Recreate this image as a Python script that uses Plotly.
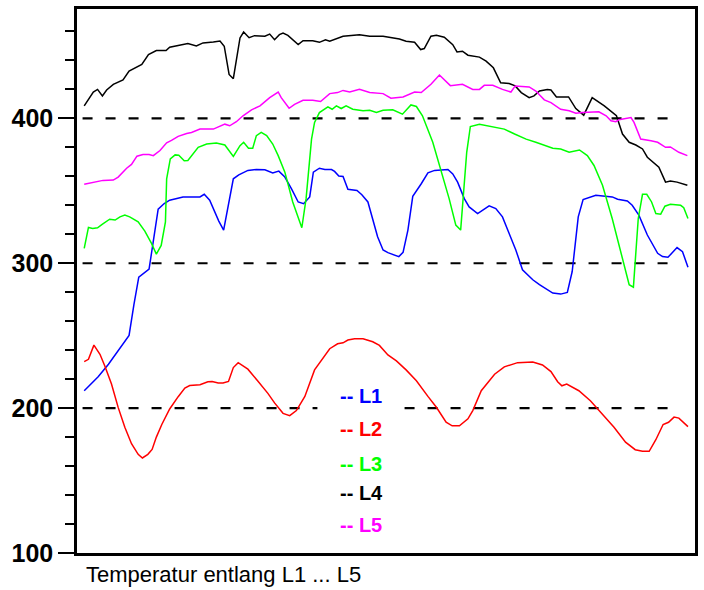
import plotly.graph_objects as go

# Position along the line (arbitrary units 0..100) and temperatures
l1_x = [0.2, 2.5, 4.2, 6.1, 7.6, 8.4, 9.2, 10.9, 12.4, 13.4, 14.3, 16.5, 19.3, 20.0, 20.9, 22.4, 23.2, 24.8, 25.7, 27.2,
        28.6, 30.0, 31.3, 32.3, 33.3, 34.4, 35.5, 36.4, 37.4, 38.0, 39.0, 39.9, 41.0, 41.5, 42.2, 42.9, 43.7, 45.2, 46.0, 47.0,
        47.8, 48.6, 49.5, 50.3, 52.1, 52.8, 53.6, 54.4, 55.8, 56.9, 58.0, 60.2, 61.0, 61.8, 62.9, 63.7, 65.1, 67.0, 68.1, 69.2,
        70.3, 71.4, 72.5, 74.2, 75.3, 76.4, 77.5, 78.8, 79.9, 80.7, 81.7, 82.5, 84.6, 87.3, 88.2, 89.8, 90.6, 91.7, 93.1, 94.8,
        95.6, 96.5, 98.0, 98.9, 99.8]
l1_y = [212.0, 221.6, 230.3, 241.3, 250.2, 271.5, 290.4, 295.9, 337.3, 341.2, 343.5, 345.8, 345.8, 347.6, 343.5, 329.1, 322.9, 358.3, 361.0, 364.1,
        364.7, 364.5, 362.4, 363.6, 359.5, 351.4, 342.3, 341.1, 345.8, 362.9, 365.6, 364.7, 364.7, 363.4, 360.2, 359.9, 351.0, 350.3, 347.3, 342.3,
        330.9, 318.3, 309.2, 307.3, 304.6, 307.5, 322.9, 346.2, 354.9, 362.4, 364.1, 364.7, 361.7, 356.0, 344.6, 338.9, 334.3, 339.6, 337.7, 332.0,
        320.6, 309.2, 295.5, 288.6, 285.2, 282.2, 279.4, 278.7, 279.9, 294.3, 332.0, 343.9, 346.9, 345.8, 344.2, 343.0, 340.0, 333.2, 319.5, 306.9,
        304.6, 304.1, 310.8, 308.0, 297.3]

l2_x = [0.2, 0.9, 1.8, 2.8, 3.6, 4.7, 5.8, 6.9, 8.0, 9.1, 9.8, 10.7, 11.4, 12.1, 13.0, 14.3, 15.7, 16.8, 17.6, 19.3,
        20.6, 21.3, 22.3, 23.1, 24.0, 24.8, 25.6, 27.2, 28.8, 30.5, 31.6, 33.0, 34.1, 35.2, 36.6, 38.2, 40.7, 42.0, 42.9, 43.7,
        44.8, 46.2, 47.8, 48.9, 50.3, 51.7, 53.3, 55.0, 56.9, 58.3, 59.9, 60.9, 62.1, 63.5, 64.3, 65.7, 67.9, 69.5, 71.7, 74.2,
        75.8, 77.2, 78.3, 79.0, 79.8, 81.8, 83.7, 85.4, 87.6, 89.5, 91.1, 92.3, 93.4, 94.5, 95.7, 96.6, 97.5, 98.3, 99.8]
l2_y = [232.1, 233.7, 243.5, 237.2, 229.1, 216.6, 200.5, 186.8, 175.4, 168.1, 165.6, 168.1, 171.5, 180.0, 188.7, 199.4, 207.9, 213.8, 215.6, 216.1,
        218.2, 218.4, 217.3, 217.3, 218.4, 228.0, 231.4, 226.9, 218.9, 210.2, 203.6, 196.4, 194.8, 198.3, 208.1, 226.4, 241.0, 244.4, 245.1, 247.0,
        247.9, 247.9, 245.8, 243.3, 236.7, 232.6, 226.4, 218.9, 208.1, 200.6, 190.3, 187.8, 187.8, 192.6, 198.3, 212.0, 223.4, 228.5, 231.4, 231.9,
        229.8, 225.2, 218.2, 215.4, 216.6, 212.0, 205.1, 197.1, 186.8, 176.5, 171.3, 170.2, 170.2, 178.2, 188.7, 190.2, 193.8, 193.1, 187.2]

l3_x = [0.2, 0.9, 1.6, 2.4, 3.1, 4.4, 5.3, 6.1, 6.9, 7.7, 9.1, 10.2, 11.3, 12.1, 12.9, 13.6, 13.8, 14.4, 15.2, 15.8,
        16.7, 17.3, 19.0, 20.4, 22.0, 23.4, 24.8, 25.9, 26.5, 27.3, 28.0, 28.6, 29.4, 30.3, 31.3, 32.2, 33.3, 34.6, 36.1, 36.8,
        37.7, 38.2, 39.0, 40.4, 41.1, 41.8, 42.6, 43.4, 44.5, 46.2, 47.3, 48.4, 49.5, 51.1, 52.7, 54.1, 55.0, 56.0, 57.7, 60.4,
        61.5, 62.3, 63.3, 63.9, 65.4, 67.6, 69.5, 71.2, 73.1, 74.7, 76.4, 77.5, 78.8, 80.2, 81.9, 83.2, 84.3, 85.7, 87.3, 90.1,
        90.8, 91.6, 92.3, 93.0, 93.8, 94.5, 95.3, 96.0, 96.9, 98.6, 99.1, 99.8]
l3_y = [310.3, 324.7, 324.0, 324.5, 326.7, 330.4, 329.8, 332.0, 333.2, 332.0, 328.6, 322.2, 313.7, 306.3, 312.3, 328.6, 358.3, 372.1, 374.8, 374.6,
        370.8, 370.9, 380.0, 382.3, 383.0, 381.6, 373.7, 381.2, 383.5, 379.4, 379.4, 388.1, 390.3, 388.1, 382.3, 374.3, 362.9, 342.3, 324.5, 344.6,
        385.7, 397.2, 404.0, 408.0, 406.3, 408.6, 406.8, 408.6, 406.3, 405.2, 405.6, 404.1, 405.6, 405.9, 402.9, 409.3, 408.2, 401.8, 383.5, 344.6,
        326.3, 322.9, 376.6, 394.4, 396.0, 394.4, 392.6, 389.2, 385.7, 383.5, 381.2, 379.4, 378.9, 376.6, 378.2, 374.3, 367.5, 353.8, 330.9, 285.2,
        283.5, 330.9, 347.6, 347.6, 342.3, 334.3, 333.9, 339.4, 340.7, 340.0, 338.4, 330.9]

l4_x = [0.2, 1.7, 2.4, 3.2, 3.9, 5.0, 6.6, 7.6, 9.7, 10.8, 12.1, 13.7, 14.3, 15.7, 17.3, 18.7, 19.8, 21.5, 22.6, 23.3,
        24.1, 24.8, 25.9, 26.5, 27.4, 28.3, 30.0, 30.8, 31.6, 32.4, 33.0, 33.8, 35.5, 36.3, 37.9, 39.0, 40.0, 40.7, 42.9, 45.6,
        47.3, 49.5, 52.2, 53.3, 54.7, 55.7, 56.3, 57.4, 58.3, 59.6, 61.0, 61.7, 62.6, 63.5, 65.4, 66.5, 67.7, 68.9, 70.3, 71.3,
        72.3, 73.6, 74.4, 75.3, 76.6, 77.2, 78.1, 80.1, 81.3, 82.6, 84.0, 86.0, 87.3, 88.0, 89.0, 90.1, 91.2, 92.3, 93.1, 95.0,
        96.1, 96.9, 98.0, 99.7]
l4_y = [408.6, 418.2, 420.0, 415.5, 419.6, 423.5, 426.5, 432.7, 437.2, 444.0, 446.8, 446.8, 449.1, 450.2, 451.6, 450.0, 452.1, 452.7, 453.4, 449.8,
        430.3, 427.4, 455.5, 459.6, 455.7, 457.1, 456.7, 458.2, 454.3, 457.8, 458.9, 457.3, 450.9, 453.6, 453.6, 452.5, 454.3, 453.2, 456.7, 457.8,
        456.7, 456.7, 454.8, 453.2, 452.5, 447.5, 448.2, 456.7, 457.3, 456.0, 450.9, 445.9, 446.4, 443.6, 442.3, 439.5, 434.9, 424.6, 424.1, 422.4,
        417.8, 414.3, 415.5, 418.9, 420.0, 419.6, 414.8, 414.8, 406.8, 402.2, 414.3, 408.6, 404.0, 401.8, 389.2, 383.5, 381.6, 378.9, 373.2, 366.3,
        356.0, 356.7, 356.0, 353.8]

l5_x = [0.2, 1.7, 3.3, 5.0, 5.8, 7.2, 8.0, 8.9, 9.9, 10.9, 11.6, 12.7, 13.8, 14.6, 15.7, 17.1, 17.9, 19.3, 21.5, 23.4,
        24.2, 25.3, 26.4, 27.8, 29.2, 30.8, 32.2, 32.7, 34.0, 34.9, 36.3, 37.9, 39.2, 40.7, 42.0, 42.9, 44.0, 45.6, 47.3, 49.5,
        50.8, 52.8, 54.7, 55.8, 57.4, 58.8, 60.6, 62.6, 64.3, 65.4, 66.2, 67.6, 69.2, 70.6, 71.3, 73.6, 74.7, 76.1, 77.2, 78.8,
        80.2, 81.3, 82.4, 85.1, 86.3, 87.1, 87.9, 88.4, 90.4, 90.9, 92.0, 93.7, 94.8, 96.1, 96.9, 98.3, 99.7]
l5_y = [354.5, 356.0, 357.2, 357.4, 359.5, 365.6, 368.2, 373.9, 375.0, 375.0, 374.3, 377.8, 383.1, 384.8, 387.6, 389.6, 390.3, 392.6, 392.6, 396.0,
        394.9, 397.7, 401.8, 405.9, 408.6, 414.3, 418.2, 414.3, 407.0, 409.7, 412.5, 412.5, 411.6, 417.1, 417.8, 419.3, 418.2, 420.0, 417.8, 417.1,
        413.9, 414.8, 418.2, 417.8, 423.5, 429.9, 422.6, 423.5, 420.0, 420.0, 422.8, 422.8, 420.0, 418.2, 422.4, 421.7, 418.9, 412.8, 410.9, 406.3,
        405.2, 403.6, 404.1, 404.5, 401.8, 398.4, 397.7, 399.0, 400.6, 397.2, 385.7, 384.6, 383.5, 380.0, 380.3, 376.6, 374.3]

series_names = ["L1", "L2", "L3", "L4", "L5"]
series_colors = ["#0000FF", "#FF0000", "#00FF00", "#000000", "#FF00FF"]
grid_values = [200, 300, 400]
y_range = [100, 475.5]
x_range = [-0.99, 100.96]
axis_title = "Temperatur entlang L1 ... L5"

xs = [l1_x, l2_x, l3_x, l4_x, l5_x]
ys = [l1_y, l2_y, l3_y, l4_y, l5_y]

fig = go.Figure()
for name, color, x, y in zip(series_names, series_colors, xs, ys):
    fig.add_trace(go.Scatter(x=x, y=y, mode="lines", name=name,
                             line=dict(color=color, width=1.5), showlegend=False))

shapes = []
for g in grid_values:
    shapes.append(dict(type="line", xref="paper", yref="y", x0=0.009, x1=0.975, y0=g, y1=g,
                       line=dict(color="black", width=2.2, dash="10px,13px"), layer="below"))
# white legend background (hides the grid line behind the legend text)
shapes.append(dict(type="rect", xref="paper", yref="paper", x0=0.389, x1=0.519, y0=0.024, y1=0.317,
                   fillcolor="white", line=dict(width=0), layer="below"))

legend_y = [0.2894, 0.2272, 0.1645, 0.1097, 0.0517]
annotations = []
for name, color, ly in zip(series_names, series_colors, legend_y):
    annotations.append(dict(text="-- " + name, xref="paper", yref="paper", x=0.4217, y=ly,
                            xanchor="left", yanchor="middle", showarrow=False,
                            font=dict(family="Liberation Sans, Arial", size=20, color=color, weight="bold")))
annotations.append(dict(text=axis_title, xref="paper", yref="paper", x=0.011, y=-0.040,
                        xanchor="left", yanchor="middle", showarrow=False,
                        font=dict(family="Liberation Sans, Arial", size=22, color="black")))

fig.update_layout(
    width=704, height=590,
    margin=dict(l=77, r=8, t=6, b=37, pad=0),
    paper_bgcolor="white", plot_bgcolor="white",
    shapes=shapes, annotations=annotations,
    xaxis=dict(range=x_range, showgrid=False, zeroline=False, showticklabels=False, ticks="",
               showline=True, linecolor="black", linewidth=2.5, mirror=True),
    yaxis=dict(range=y_range, showgrid=False, zeroline=False, tickmode="linear", tick0=100, dtick=100,
               ticks="outside", ticklen=16, tickwidth=2, tickcolor="black",
               minor=dict(dtick=20, tick0=100, ticks="outside", ticklen=9, tickwidth=2, tickcolor="black", showgrid=False),
               showline=True, linecolor="black", linewidth=2.5, mirror=True,
               tickfont=dict(family="Liberation Sans, Arial", size=25, color="black", weight="bold")),
)

fig.write_html("out.html")
